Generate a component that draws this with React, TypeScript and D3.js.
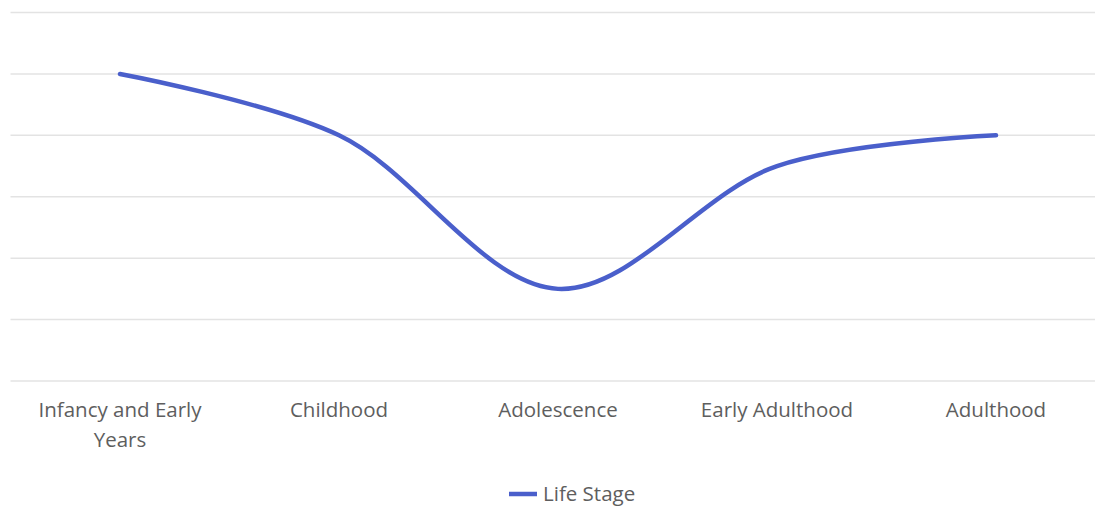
import React from "react";
import * as d3 from "d3";

// Life-stage trajectory, one value per stage
const categories: string[][] = [
  ["Infancy and Early", "Years"],
  ["Childhood"],
  ["Adolescence"],
  ["Early Adulthood"],
  ["Adulthood"],
];
const values: number[] = [5, 4, 1.5, 3.5, 4];
const yTicks: number[] = [0, 1, 2, 3, 4, 5, 6];
const seriesName = "Life Stage";

const W = 1095;
const H = 506;
const FONT = "'Open Sans', 'Noto Sans', sans-serif";
const LINE_COLOR = "#4a5fcb";
const TEXT_COLOR = "#5e5e5e";
const GRID_COLOR = "#e3e3e3";
const FONT_SIZE = 20.5;

export default function App() {
  const keys = categories.map((c) => c.join(" "));
  const x = d3.scaleBand<string>().domain(keys).range([10.5, 1105.5]).padding(0);
  const y = d3.scaleLinear().domain([0, 6]).range([381, 12.5]);
  const cx = (k: string) => (x(k) ?? 0) + x.bandwidth() / 2;

  const line = d3
    .line<number>()
    .x((_, i) => cx(keys[i]))
    .y((d) => y(d))
    .curve(d3.curveCatmullRom.alpha(0.5));

  return (
    <svg
      width={W}
      height={H}
      style={{ position: "absolute", left: 0, top: 0, display: "block" }}
      fontFamily={FONT}
    >
      <rect width={W} height={H} fill="#ffffff" />
      {yTicks.map((t) => (
        <line
          key={t}
          x1={10.5}
          x2={W}
          y1={y(t)}
          y2={y(t)}
          stroke={GRID_COLOR}
          strokeWidth={1.5}
        />
      ))}
      <path
        d={line(values) ?? ""}
        fill="none"
        stroke={LINE_COLOR}
        strokeWidth={4.5}
        strokeLinecap="round"
        strokeLinejoin="round"
      />
      {categories.map((lines, i) => (
        <text
          key={keys[i]}
          x={cx(keys[i])}
          y={417}
          textAnchor="middle"
          fontSize={FONT_SIZE}
          fill={TEXT_COLOR}
        >
          {lines.map((l, j) => (
            <tspan key={j} x={cx(keys[i])} dy={j === 0 ? 0 : 30}>
              {l}
            </tspan>
          ))}
        </text>
      ))}
      <g>
        <line x1={509} x2={537} y1={494} y2={494} stroke={LINE_COLOR} strokeWidth={4.5} />
        <text x={543} y={501} fontSize={FONT_SIZE} fill={TEXT_COLOR}>
          {seriesName}
        </text>
      </g>
    </svg>
  );
}
